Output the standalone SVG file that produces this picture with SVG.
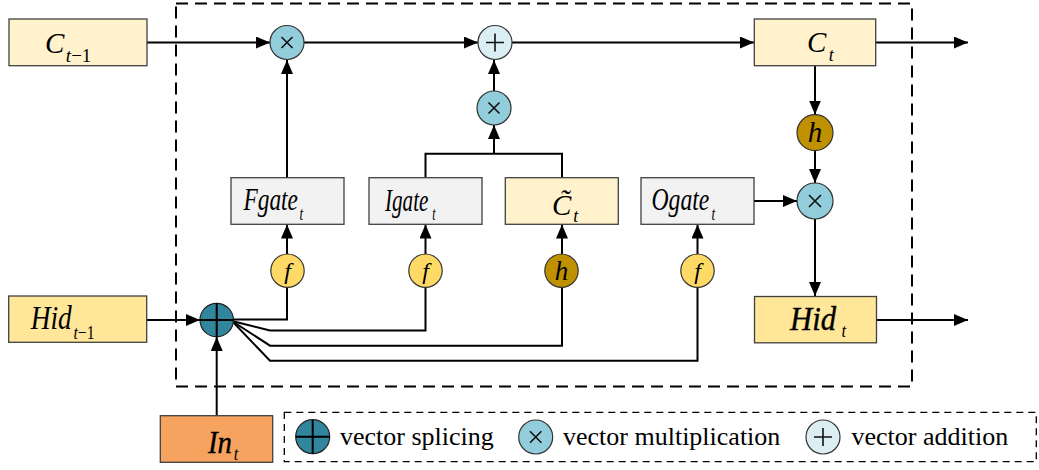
<svg xmlns="http://www.w3.org/2000/svg" width="1039" height="470" viewBox="0 0 1039 470">
<defs>
<marker id="arr" viewBox="0 0 14 12" refX="14" refY="6" markerWidth="14" markerHeight="12" markerUnits="userSpaceOnUse" orient="auto">
<path d="M0,0 L14,6 L0,12 Z" fill="#000"/>
</marker>
</defs>
<style>
.box{stroke:#404040;stroke-width:1.3}
.cbox{fill:#FFF2CC}
.hbox{fill:#FFE699}
.gbox{fill:#F2F2F2}
.ibox{fill:#F5A35E}
.ln{fill:none;stroke:#000;stroke-width:2}
.ar{fill:none;stroke:#000;stroke-width:2;marker-end:url(#arr)}
.mul{fill:#92CDDC;stroke:#333;stroke-width:1.2}
.add{fill:#DAEEF3;stroke:#333;stroke-width:1.2}
.spl{fill:#31859C;stroke:#222;stroke-width:1.2}
.fc{fill:#FFD966;stroke:#333;stroke-width:1.2}
.hc{fill:#BF9000;stroke:#333;stroke-width:1.2}
.sym{stroke:#111;stroke-width:1.6;fill:none}
text{font-family:'Liberation Serif','DejaVu Serif',serif;fill:#000}
.lbl{font-style:italic}
.leg{font-size:26px}
</style>

<rect x="176" y="3.5" width="736" height="383" fill="none" stroke="#000" stroke-width="2" stroke-dasharray="12,7"/>

<g id="connectors">
<line class="ar" x1="147" y1="42.5" x2="270" y2="42.5"/>
<line class="ar" x1="304" y1="42.5" x2="478" y2="42.5"/>
<line class="ar" x1="512" y1="42.5" x2="754" y2="42.5"/>
<line class="ar" x1="876" y1="42.5" x2="968" y2="42.5"/>
<line class="ar" x1="287" y1="178" x2="287" y2="60"/>
<line class="ar" x1="494" y1="91" x2="494" y2="60"/>
<polyline class="ln" points="425.5,178 425.5,153.7 562,153.7 562,178"/>
<line class="ar" x1="494" y1="153.7" x2="494" y2="125"/>
<line class="ar" x1="287" y1="254" x2="287" y2="224.5"/>
<line class="ar" x1="425.5" y1="254" x2="425.5" y2="224.5"/>
<line class="ar" x1="562" y1="254" x2="562" y2="224.5"/>
<line class="ar" x1="697.5" y1="254" x2="697.5" y2="224.5"/>
<polyline class="ln" points="233,319.5 287,319.5 287,287.5"/>
<polyline class="ln" points="232,321 270,330.5 425.5,330.5 425.5,287.5"/>
<polyline class="ln" points="232,321 270,345.7 562,345.7 562,287.5"/>
<polyline class="ln" points="232,321 270,360.7 697.5,360.7 697.5,287.5"/>
<line class="ar" x1="147" y1="320" x2="200" y2="320"/>
<line class="ar" x1="216.7" y1="415.7" x2="216.7" y2="337"/>
<line class="ar" x1="815" y1="65.7" x2="815" y2="114.5"/>
<line class="ar" x1="815" y1="151" x2="815" y2="183"/>
<line class="ar" x1="754" y1="201" x2="797" y2="201"/>
<line class="ar" x1="815" y1="219" x2="815" y2="296"/>
<line class="ar" x1="876.5" y1="320" x2="968" y2="320"/>
</g>

<g id="C_prev">
<rect class="box cbox" x="9" y="19" width="138" height="46.7"/>
<text class="lbl" x="45" y="52.5" font-size="29">C<tspan font-size="19" dx="1.5" dy="9.5">t</tspan><tspan font-size="19" font-style="normal">−1</tspan></text>
</g>

<g id="mul1">
<circle class="mul" cx="287" cy="42.5" r="17"/>
<path class="sym" d="M281.5,37 L292.5,48 M292.5,37 L281.5,48"/>
</g>

<g id="add1">
<circle class="add" cx="495" cy="42.5" r="17"/>
<path class="sym" d="M486,42.5 H504 M495,33.5 V51.5"/>
</g>

<g id="mul2">
<circle class="mul" cx="494" cy="108" r="17"/>
<path class="sym" d="M488.5,102.5 L499.5,113.5 M499.5,102.5 L488.5,113.5"/>
</g>

<g id="C_t">
<rect class="box cbox" x="754.3" y="19" width="121.4" height="46.7"/>
<text class="lbl" x="807" y="52" font-size="29">C<tspan font-size="18" dx="2.5" dy="9">t</tspan></text>
</g>

<g id="Fgate">
<rect class="box gbox" x="231" y="177.7" width="113" height="46.6"/>
<text class="lbl" transform="translate(243.5,210) scale(0.73,1)" font-size="32">Fgate<tspan font-size="18" dx="2" dy="10">t</tspan></text>
</g>

<g id="Igate">
<rect class="box gbox" x="369" y="177.7" width="113" height="46.6"/>
<text class="lbl" transform="translate(385,210.5) scale(0.66,1)" font-size="32">Igate<tspan font-size="18" dx="6" dy="9.5">t</tspan></text>
</g>

<g id="Ctilde">
<rect class="box cbox" x="505.3" y="177.7" width="113" height="46.6"/>
<text class="lbl" x="552" y="215" font-size="29">C̃<tspan font-size="18" dx="2" dy="7">t</tspan></text>
</g>

<g id="Ogate">
<rect class="box gbox" x="641" y="177.7" width="113" height="46.6"/>
<text class="lbl" transform="translate(651.5,210) scale(0.74,1)" font-size="32">Ogate<tspan font-size="18" dx="3" dy="10">t</tspan></text>
</g>

<g id="f1">
<circle class="fc" cx="287.5" cy="270.7" r="16.7"/>
<text class="lbl" x="287.5" y="279" font-size="24" text-anchor="middle">f</text>
</g>
<g id="f2">
<circle class="fc" cx="425.5" cy="270.7" r="16.7"/>
<text class="lbl" x="425.5" y="279" font-size="24" text-anchor="middle">f</text>
</g>
<g id="h1">
<circle class="hc" cx="561.5" cy="270.7" r="16.7"/>
<text class="lbl" x="561.5" y="280" font-size="27" text-anchor="middle">h</text>
</g>
<g id="f3">
<circle class="fc" cx="697.5" cy="270.7" r="16.7"/>
<text class="lbl" x="697.5" y="279" font-size="24" text-anchor="middle">f</text>
</g>

<g id="h2">
<circle class="hc" cx="815" cy="132.7" r="18"/>
<text class="lbl" x="815" y="142" font-size="29" text-anchor="middle">h</text>
</g>

<g id="mul3">
<circle class="mul" cx="815" cy="201" r="18"/>
<path class="sym" d="M809,195 L821,207 M821,195 L809,207"/>
</g>

<g id="Hid_prev">
<rect class="box hbox" x="8.7" y="296" width="138" height="46.3"/>
<text class="lbl" transform="translate(30.7,329) scale(0.83,1)" font-size="33">Hid<tspan font-size="19" dx="2" dy="10">t</tspan><tspan font-size="19" font-style="normal">−1</tspan></text>
</g>

<g id="splice">
<circle class="spl" cx="216.7" cy="320" r="16.7"/>
<path d="M200,320 H233.4 M216.7,303.3 V336.7" stroke="#000" stroke-width="2"/>
</g>

<g id="Hid_t">
<rect class="box hbox" x="754.5" y="296.5" width="122" height="46.3"/>
<text class="lbl" transform="translate(790,330) scale(0.93,1)" font-size="33" stroke="#000" stroke-width="0.4">Hid<tspan font-size="18" dx="6" dy="7" stroke-width="0">t</tspan></text>
</g>

<g id="In_t">
<rect class="box ibox" x="160.3" y="415.7" width="112.4" height="46.6"/>
<text class="lbl" transform="translate(208,453.3) scale(0.9,1)" font-size="32" stroke="#000" stroke-width="0.4">In<tspan font-size="18" dx="2" dy="6.7" stroke-width="0">t</tspan></text>
</g>

<g id="legend">
<rect x="284.3" y="412.3" width="752" height="49.4" fill="none" stroke="#000" stroke-width="1.3" stroke-dasharray="7,5"/>
<circle class="spl" cx="312.7" cy="436.7" r="17"/>
<path d="M295.7,436.7 H329.7 M312.7,419.7 V453.7" stroke="#000" stroke-width="2"/>
<text class="leg" x="340" y="445">vector splicing</text>
<circle class="mul" cx="535.7" cy="437" r="17"/>
<path class="sym" d="M530,431.3 L541.4,442.7 M541.4,431.3 L530,442.7"/>
<text class="leg" x="563" y="445">vector multiplication</text>
<circle class="add" cx="823" cy="437" r="17"/>
<path class="sym" d="M814,437 H832 M823,428 V446"/>
<text class="leg" x="851.5" y="445">vector addition</text>
</g>
</svg>
